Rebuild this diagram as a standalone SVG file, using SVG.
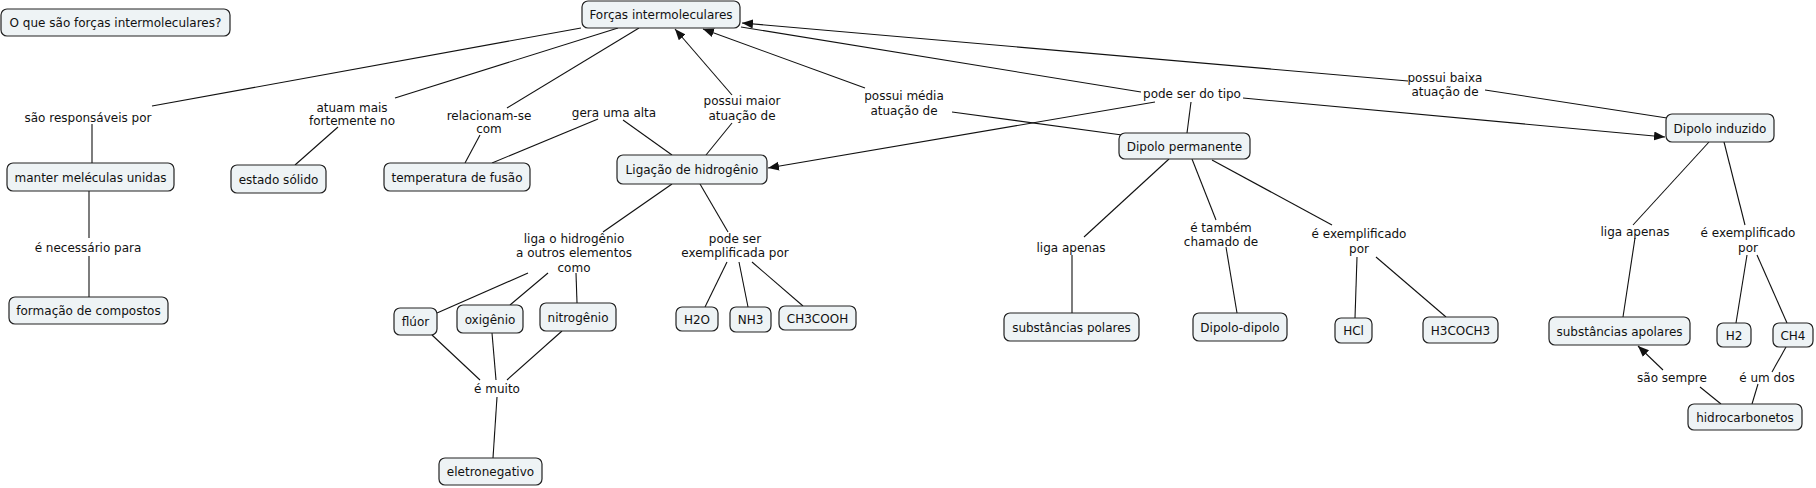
<svg xmlns="http://www.w3.org/2000/svg" width="1816" height="488" viewBox="0 0 1816 488">
<defs>
<style>
.node rect{fill:#eef3f5;stroke:#222;stroke-width:1.2}
text{font-family:"DejaVu Sans",Verdana,sans-serif;font-size:12px;fill:#111;text-anchor:middle}
.c line{stroke:#111;stroke-width:1.1}
.c line.a{marker-end:url(#ah)}
</style>
<marker id="ah" markerUnits="userSpaceOnUse" markerWidth="12" markerHeight="10" refX="11" refY="4.5" orient="auto">
<path d="M0,0 L11,4.5 L0,9 z" fill="#111"/>
</marker>
</defs>
<rect width="1816" height="488" fill="#fff"/>
<g id="connectors" class="c">
<line x1="581" y1="28" x2="152" y2="106"/>
<line x1="92" y1="124" x2="92" y2="163"/>
<line x1="618" y1="28" x2="395" y2="98"/>
<line x1="338" y1="127" x2="295" y2="165"/>
<line x1="639" y1="28" x2="507" y2="108"/>
<line x1="480" y1="135" x2="465" y2="163"/>
<line x1="672" y1="155" x2="623" y2="120"/>
<line x1="598" y1="119" x2="492" y2="163"/>
<line x1="706" y1="155" x2="732" y2="123"/>
<line class="a" x1="732" y1="95" x2="675" y2="29"/>
<line class="a" x1="865" y1="88" x2="703" y2="29"/>
<line x1="952" y1="112" x2="1122" y2="135"/>
<line x1="741" y1="27" x2="1141" y2="92"/>
<line class="a" x1="1155" y1="102" x2="768" y2="168"/>
<line x1="1191" y1="102" x2="1187" y2="133"/>
<line class="a" x1="1243" y1="98" x2="1665" y2="137"/>
<line class="a" x1="1408" y1="81" x2="742" y2="23"/>
<line x1="1485" y1="90" x2="1667" y2="118"/>
<line x1="89" y1="191" x2="89" y2="238"/>
<line x1="89" y1="256" x2="89" y2="297"/>
<line x1="672" y1="184" x2="603" y2="232"/>
<line x1="700" y1="184" x2="728" y2="232"/>
<line x1="528" y1="273" x2="437" y2="313"/>
<line x1="548" y1="273" x2="510" y2="305"/>
<line x1="576" y1="273" x2="577" y2="303"/>
<line x1="432" y1="335" x2="480" y2="380"/>
<line x1="492" y1="333" x2="496" y2="380"/>
<line x1="562" y1="331" x2="507" y2="380"/>
<line x1="497" y1="397" x2="493" y2="458"/>
<line x1="727" y1="262" x2="705" y2="307"/>
<line x1="739" y1="262" x2="748" y2="307"/>
<line x1="752" y1="262" x2="803" y2="306"/>
<line x1="1169" y1="159" x2="1084" y2="237"/>
<line x1="1072" y1="255" x2="1072" y2="313"/>
<line x1="1192" y1="159" x2="1216" y2="220"/>
<line x1="1226" y1="247" x2="1237" y2="313"/>
<line x1="1212" y1="160" x2="1332" y2="225"/>
<line x1="1357" y1="257" x2="1355" y2="318"/>
<line x1="1376" y1="257" x2="1446" y2="317"/>
<line x1="1709" y1="142" x2="1633" y2="225"/>
<line x1="1635" y1="238" x2="1623" y2="317"/>
<line x1="1724" y1="142" x2="1745" y2="225"/>
<line x1="1747" y1="255" x2="1736" y2="323"/>
<line x1="1757" y1="255" x2="1787" y2="323"/>
<line x1="1786" y1="347" x2="1772" y2="372"/>
<line x1="1758" y1="384" x2="1752" y2="404"/>
<line x1="1721" y1="404" x2="1700" y2="387"/>
<line class="a" x1="1663" y1="370" x2="1638" y2="346"/>
</g>
<g id="labels">
<text x="88" y="121.5">são responsáveis por</text>
<text x="352" y="111.5">atuam mais</text>
<text x="352" y="124.5">fortemente no</text>
<text x="489" y="119.5">relacionam-se</text>
<text x="489" y="132.5">com</text>
<text x="614" y="116.5">gera uma alta</text>
<text x="742" y="104.5">possui maior</text>
<text x="742" y="119.5">atuação de</text>
<text x="904" y="99.5">possui média</text>
<text x="904" y="114.5">atuação de </text>
<text x="1192" y="97.5">pode ser do tipo</text>
<text x="1445" y="81.5">possui baixa</text>
<text x="1445" y="95.5">atuação de</text>
<text x="88" y="251.5">é necessário para</text>
<text x="574" y="242.5">liga o hidrogênio</text>
<text x="574" y="256.5">a outros elementos</text>
<text x="574" y="271.5">como</text>
<text x="735" y="242.5">pode ser</text>
<text x="735" y="256.5">exemplificada por</text>
<text x="497" y="392.5">é muito</text>
<text x="1071" y="251.5">liga apenas</text>
<text x="1221" y="231.5">é também</text>
<text x="1221" y="245.5">chamado de</text>
<text x="1359" y="237.5">é exemplificado</text>
<text x="1359" y="252.5">por</text>
<text x="1635" y="235.5">liga apenas</text>
<text x="1748" y="236.5">é exemplificado</text>
<text x="1748" y="251.5">por</text>
<text x="1672" y="381.5">são sempre</text>
<text x="1767" y="381.5">é um dos</text>
</g>
<g id="n_oque" class="node"><rect x="1" y="9" width="229" height="27" rx="6"/><text x="115.5" y="27">O que são forças intermoleculares?</text></g>
<g id="n_forcas" class="node"><rect x="582" y="1" width="158" height="27" rx="6"/><text x="661" y="19">Forças intermoleculares</text></g>
<g id="n_manter" class="node"><rect x="7" y="163" width="167" height="28" rx="6"/><text x="90.5" y="181.5">manter meléculas unidas</text></g>
<g id="n_estado" class="node"><rect x="231" y="165" width="95" height="28" rx="6"/><text x="278.5" y="183.5">estado sólido</text></g>
<g id="n_temp" class="node"><rect x="384" y="163" width="146" height="28" rx="6"/><text x="457" y="181.5">temperatura de fusão</text></g>
<g id="n_lig" class="node"><rect x="617" y="155" width="150" height="29" rx="6"/><text x="692" y="174">Ligação de hidrogênio</text></g>
<g id="n_dp" class="node"><rect x="1119" y="133" width="131" height="26" rx="6"/><text x="1184.5" y="150.5">Dipolo permanente</text></g>
<g id="n_di" class="node"><rect x="1666" y="114" width="108" height="28" rx="6"/><text x="1720" y="132.5">Dipolo induzido</text></g>
<g id="n_formacao" class="node"><rect x="9" y="297" width="159" height="27" rx="6"/><text x="88.5" y="315">formação de compostos</text></g>
<g id="n_fluor" class="node"><rect x="394" y="308" width="43" height="27" rx="6"/><text x="415.5" y="326">flúor</text></g>
<g id="n_oxig" class="node"><rect x="457" y="305" width="66" height="28" rx="6"/><text x="490" y="323.5">oxigênio</text></g>
<g id="n_nitro" class="node"><rect x="540" y="303" width="76" height="28" rx="6"/><text x="578" y="321.5">nitrogênio</text></g>
<g id="n_eletro" class="node"><rect x="439" y="458" width="103" height="27" rx="6"/><text x="490.5" y="476">eletronegativo</text></g>
<g id="n_h2o" class="node"><rect x="676" y="307" width="42" height="24" rx="6"/><text x="697" y="323.5">H2O</text></g>
<g id="n_nh3" class="node"><rect x="730" y="307" width="41" height="25" rx="6"/><text x="750.5" y="324">NH3</text></g>
<g id="n_ch3cooh" class="node"><rect x="779" y="306" width="77" height="24" rx="6"/><text x="817.5" y="322.5">CH3COOH</text></g>
<g id="n_polares" class="node"><rect x="1004" y="313" width="135" height="28" rx="6"/><text x="1071.5" y="331.5">substâncias polares</text></g>
<g id="n_dd" class="node"><rect x="1193" y="313" width="94" height="28" rx="6"/><text x="1240" y="331.5">Dipolo-dipolo</text></g>
<g id="n_hcl" class="node"><rect x="1335" y="318" width="37" height="25" rx="6"/><text x="1353.5" y="335">HCl</text></g>
<g id="n_h3coch3" class="node"><rect x="1423" y="317" width="75" height="26" rx="6"/><text x="1460.5" y="334.5">H3COCH3</text></g>
<g id="n_apolares" class="node"><rect x="1549" y="317" width="141" height="28" rx="6"/><text x="1619.5" y="335.5">substâncias apolares</text></g>
<g id="n_h2" class="node"><rect x="1717" y="323" width="34" height="24" rx="6"/><text x="1734" y="339.5">H2</text></g>
<g id="n_ch4" class="node"><rect x="1773" y="323" width="40" height="24" rx="6"/><text x="1793" y="339.5">CH4</text></g>
<g id="n_hidro" class="node"><rect x="1688" y="404" width="114" height="26" rx="6"/><text x="1745" y="421.5">hidrocarbonetos</text></g>
</svg>
